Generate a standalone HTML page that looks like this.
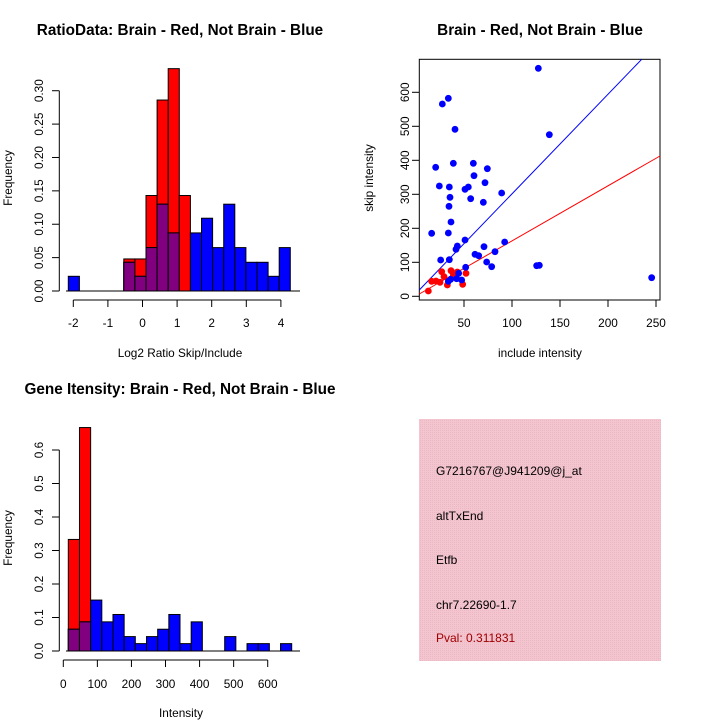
<!DOCTYPE html>
<html><head><meta charset="utf-8"><style>body{margin:0;background:#fff}svg{display:block}text{font-family:"Liberation Sans",sans-serif}</style></head><body>
<svg id="s" width="720" height="720" viewBox="0 0 720 720" xmlns="http://www.w3.org/2000/svg">
<defs><pattern id="pk" width="2" height="2" patternUnits="userSpaceOnUse"><rect width="2" height="2" fill="#f4c4cf"/><rect width="1" height="1" fill="#e8b8c4"/></pattern></defs>
<g font-size="15.3" font-weight="bold" text-anchor="middle">
<text x="180" y="35">RatioData: Brain - Red, Not Brain - Blue</text>
<text x="540" y="35">Brain - Red, Not Brain - Blue</text>
<text x="180" y="394">Gene Itensity: Brain - Red, Not Brain - Blue</text>
</g>
<g font-size="11.8" text-anchor="middle">
<text x="180" y="357">Log2 Ratio Skip/Include</text>
<text x="540" y="357">include intensity</text>
<text x="181" y="717">Intensity</text>
<text transform="translate(12,178) rotate(-90)">Frequency</text>
<text transform="translate(12,538) rotate(-90)">Frequency</text>
<text transform="translate(373,178) rotate(-90)">skip intensity</text>
</g>
<g id="g1"></g><g id="g2"></g><g id="g3"></g>
<g font-size="11.8" text-anchor="middle">
<text x="73.3" y="327">-2</text><text x="107.9" y="327">-1</text><text x="142.5" y="327">0</text><text x="177.1" y="327">1</text><text x="211.7" y="327">2</text><text x="246.3" y="327">3</text><text x="281" y="327">4</text>
<text x="464" y="327">50</text><text x="512" y="327">100</text><text x="560" y="327">150</text><text x="608" y="327">200</text><text x="656" y="327">250</text>
<text transform="translate(409,296.3) rotate(-90)">0</text>
<text transform="translate(409,262.3) rotate(-90)">100</text>
<text transform="translate(409,228.3) rotate(-90)">200</text>
<text transform="translate(409,194.3) rotate(-90)">300</text>
<text transform="translate(409,160.3) rotate(-90)">400</text>
<text transform="translate(409,126.3) rotate(-90)">500</text>
<text transform="translate(409,92.3) rotate(-90)">600</text>
<text x="63.3" y="688">0</text><text x="97.4" y="688">100</text><text x="131.5" y="688">200</text><text x="165.5" y="688">300</text><text x="199.6" y="688">400</text><text x="233.6" y="688">500</text><text x="267.7" y="688">600</text>
<text transform="translate(43,291) rotate(-90)">0.00</text>
<text transform="translate(43,257.6) rotate(-90)">0.05</text>
<text transform="translate(43,224.2) rotate(-90)">0.10</text>
<text transform="translate(43,190.8) rotate(-90)">0.15</text>
<text transform="translate(43,157.5) rotate(-90)">0.20</text>
<text transform="translate(43,124.1) rotate(-90)">0.25</text>
<text transform="translate(43,90.7) rotate(-90)">0.30</text>
<text transform="translate(43,651) rotate(-90)">0.0</text>
<text transform="translate(43,617.5) rotate(-90)">0.1</text>
<text transform="translate(43,584) rotate(-90)">0.2</text>
<text transform="translate(43,550.5) rotate(-90)">0.3</text>
<text transform="translate(43,517) rotate(-90)">0.4</text>
<text transform="translate(43,483.5) rotate(-90)">0.5</text>
<text transform="translate(43,450) rotate(-90)">0.6</text>
</g>
<rect x="419" y="419" width="242" height="242" fill="url(#pk)"/>
<g font-size="12">
<text x="436" y="475">G7216767@J941209@j_at</text>
<text x="436" y="520">altTxEnd</text>
<text x="436" y="564">Etfb</text>
<text x="436" y="609">chr7.22690-1.7</text>
<text x="436" y="642" fill="#a00000">Pval: 0.311831</text>
</g>
</svg>
<script>
const NS="http://www.w3.org/2000/svg";
function el(p,t,a){const e=document.createElementNS(NS,t);for(const k in a)e.setAttribute(k,a[k]);document.getElementById(p).appendChild(e);return e;}
function hist(g,x0,w,base,sc,blue,red){
 for(let i=0;i<blue.length;i++){const b=blue[i],r=red[i]||0,x=x0+w*i;
  if(r>0)el(g,'rect',{x:x,y:base-r*sc,width:w,height:r*sc,fill:'#ff0000',stroke:'#000','stroke-width':1});
  if(b>0)el(g,'rect',{x:x,y:base-b*sc,width:w,height:b*sc,fill:'#0000ff',stroke:'#000','stroke-width':1});
  const m=Math.min(b,r);if(m>0)el(g,'rect',{x:x,y:base-m*sc,width:w,height:m*sc,fill:'#800080',stroke:'#000','stroke-width':1});
 }}
hist('g1',68.3,11.1,291,667.7,[0.022,0,0,0,0,0.043,0.022,0.065,0.13,0.087,0,0.087,0.109,0.065,0.13,0.065,0.043,0.043,0.022,0.065],[0,0,0,0,0,0.048,0.048,0.143,0.286,0.333,0.143]);
el('g1','line',{x1:66,y1:291,x2:300,y2:291,stroke:'#000'});
el('g1','line',{x1:59.3,y1:291,x2:59.3,y2:90.7,stroke:'#000'});
for(let i=0;i<7;i++){const y=291-i*33.38;el('g1','line',{x1:52,y1:y,x2:59.3,y2:y,stroke:'#000'});}
el('g1','line',{x1:73.3,y1:300,x2:281,y2:300,stroke:'#000'});
for(let i=0;i<7;i++){const x=73.3+i*34.6;el('g1','line',{x1:x,y1:300,x2:x,y2:307,stroke:'#000'});}
hist('g3',68.3,11.17,651,335,[0.065,0.087,0.152,0.087,0.109,0.043,0.022,0.043,0.065,0.109,0.022,0.087,0,0,0.043,0,0.022,0.022,0,0.022],[0.333,0.667]);
el('g3','line',{x1:66,y1:651,x2:300,y2:651,stroke:'#000'});
el('g3','line',{x1:59.3,y1:651,x2:59.3,y2:450,stroke:'#000'});
for(let i=0;i<7;i++){const y=651-i*33.5;el('g3','line',{x1:52,y1:y,x2:59.3,y2:y,stroke:'#000'});}
el('g3','line',{x1:63.3,y1:660,x2:267.7,y2:660,stroke:'#000'});
for(let i=0;i<7;i++){const x=63.3+i*34.07;el('g3','line',{x1:x,y1:660,x2:x,y2:667,stroke:'#000'});}
el('g2','rect',{x:419.3,y:59.3,width:240.7,height:240.7,fill:'none',stroke:'#000'});
for(let i=0;i<5;i++){const x=464+i*48;el('g2','line',{x1:x,y1:300,x2:x,y2:307,stroke:'#000'});}
for(let i=0;i<7;i++){const y=296.3-i*34;el('g2','line',{x1:412,y1:y,x2:419.3,y2:y,stroke:'#000'});}
el('g2','line',{x1:419.3,y1:290,x2:641.7,y2:59.3,stroke:'#0000ff'});
el('g2','line',{x1:419.3,y1:294,x2:660,y2:156,stroke:'#ff0000'});
const red=[[145,723],[155,694],[168,693],[180,697],[185,665],[192,680],[213,662],[232,666],[258,670],[248,703],[202,705],[220,675]];
const blue=[[475,55],[205,145],[187,162],[225,238],[508,254],[167,352],[220,340],[280,340],[322,356],[282,377],[315,398],[178,408],[208,411],[265,411],[255,418],[210,442],[365,429],[272,446],[310,457],[207,469],[213,516],[155,550],[205,549],[255,570],[232,588],[228,598],[374,576],[285,613],[296,617],[345,605],[312,590],[182,630],[208,629],[320,636],[335,650],[257,652],[470,647],[478,646],[815,683],[212,688],[230,686],[245,690],[205,694],[236,670]];
red.forEach(p=>el('g2','circle',{cx:380+p[0]/3,cy:50+p[1]/3,r:3.4,fill:'#ff0000'}));
blue.forEach(p=>el('g2','circle',{cx:380+p[0]/3,cy:50+p[1]/3,r:3.4,fill:'#0000ff'}));
</script>
</body></html>
